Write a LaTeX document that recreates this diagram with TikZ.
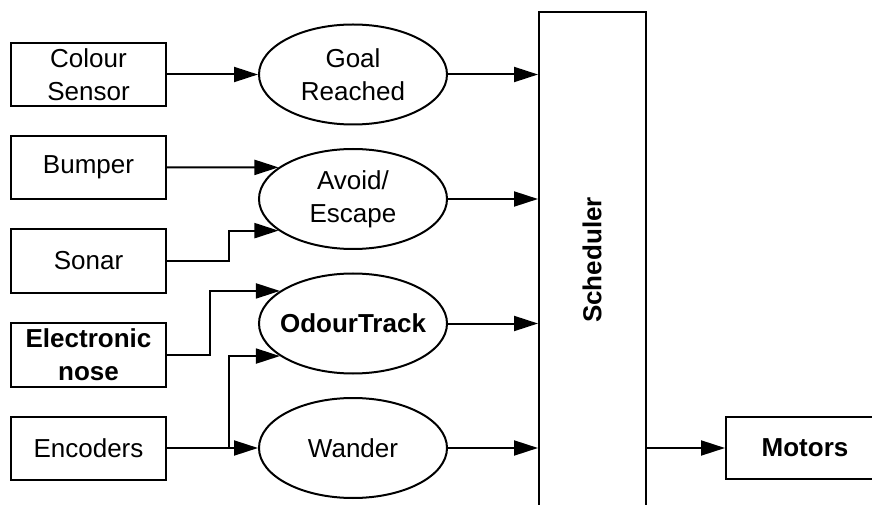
\documentclass[tikz,border=0pt]{standalone}
\usepackage{fontspec}
\setmainfont{Liberation Sans}
\usetikzlibrary{arrows.meta,shapes.geometric}
\begin{document}
\begin{tikzpicture}[x=1bp,y=-1bp,
  every node/.style={font=\fontsize{26bp}{33bp}\selectfont},
  line width=2bp,
  sbox/.style={draw,rectangle,minimum width=155bp,minimum height=63bp,align=center,inner sep=0pt},
  beh/.style={draw,ellipse,minimum width=188bp,minimum height=100bp,align=center,inner sep=0pt},
  arr/.style={-{Triangle[length=24bp,width=15bp]}}]
\clip (0,0) rectangle (872,505);
\useasboundingbox (0,0) rectangle (872,505);
% sensors
\node[sbox] (colour) at (88.5,74.5) {Colour\\Sensor};
\node[sbox] (bumper) at (88.5,167.5) {Bumper};
\node[sbox] (sonar) at (88.5,261) {Sonar};
\node[sbox,font=\fontsize{26bp}{33bp}\selectfont\bfseries] (nose) at (88.5,355) {Electronic\\nose};
\node[sbox] (enc) at (88.5,448) {Encoders};
% behaviours
\node[beh] (goal) at (353,74.5) {Goal\\Reached};
\node[beh] (avoid) at (353,199) {Avoid/\\Escape};
\node[beh,inner xsep=-10bp,font=\fontsize{26bp}{33bp}\selectfont\bfseries] (odour) at (353,323.5) {OdourTrack};
\node[beh] (wander) at (353,448) {Wander};
% scheduler
\node[draw,rectangle,minimum width=107bp,minimum height=528bp,inner sep=0pt] (sched) at (592.5,276) {};
\node[rotate=90,font=\fontsize{26bp}{33bp}\selectfont\bfseries] (schedlabel) at (592,260) {Scheduler};
% motors
\node[draw,rectangle,minimum width=158bp,minimum height=62bp,inner sep=0pt,font=\fontsize{26bp}{33bp}\selectfont\bfseries] (motors) at (805,448) {Motors};
% connectors
\draw[arr] (colour.east) -- (goal.west);
\draw[arr] (bumper.east) -- (avoid.157.2);
\coordinate (sj) at (229,261);
\draw[arr] (sonar.east) -- (sj) |- (avoid.203.9);
\coordinate (nj) at (210,355);
\draw[arr] (nose.east) -- (nj) |- (odour.156.7);
\draw[arr] (enc.east) -- (wander.west);
\coordinate (ej) at (229,448);
\draw[arr] (ej) |- (odour.204.5);
\draw[arr] (goal.east) -- (goal.east -| sched.west);
\draw[arr] (avoid.east) -- (avoid.east -| sched.west);
\draw[arr] (odour.east) -- (odour.east -| sched.west);
\draw[arr] (wander.east) -- (wander.east -| sched.west);
\draw[arr] (sched.east |- motors.west) -- (motors.west);
\end{tikzpicture}
\end{document}
